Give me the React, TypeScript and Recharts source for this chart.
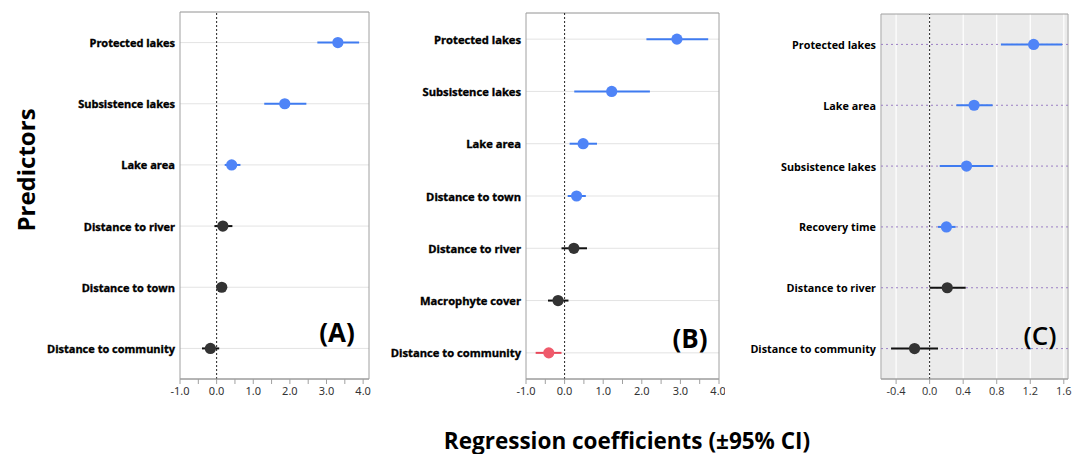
import { ScatterChart, Scatter, XAxis, YAxis, CartesianGrid, ErrorBar, ReferenceLine, ReferenceArea } from "recharts"

// panel A
const predictorsA = ["Protected lakes", "Subsistence lakes", "Lake area", "Distance to river", "Distance to town", "Distance to community"]
const estA = [3.31, 1.86, 0.41, 0.17, 0.14, -0.17]
const lowA = [2.75, 1.3, 0.22, -0.06, 0.03, -0.4]
const highA = [3.89, 2.45, 0.65, 0.43, 0.25, 0.07]
const groupA = ["pos", "pos", "pos", "ns", "ns", "ns"]
const ticksA = [-1, -0.5, 0, 0.5, 1, 1.5, 2, 2.5, 3, 3.5, 4]

// panel B
const predictorsB = ["Protected lakes", "Subsistence lakes", "Lake area", "Distance to town", "Distance to river", "Macrophyte cover", "Distance to community"]
const estB = [2.91, 1.22, 0.48, 0.31, 0.24, -0.17, -0.41]
const lowB = [2.12, 0.25, 0.13, 0.08, -0.08, -0.43, -0.75]
const highB = [3.72, 2.21, 0.84, 0.55, 0.58, 0.1, -0.08]
const groupB = ["pos", "pos", "pos", "pos", "ns", "ns", "neg"]
const ticksB = [-1, -0.5, 0, 0.5, 1, 1.5, 2, 2.5, 3, 3.5, 4]

// panel C
const predictorsC = ["Protected lakes", "Lake area", "Subsistence lakes", "Recovery time", "Distance to river", "Distance to community"]
const estC = [1.24, 0.53, 0.44, 0.2, 0.21, -0.18]
const lowC = [0.85, 0.32, 0.12, 0.1, 0.0, -0.46]
const highC = [1.58, 0.75, 0.76, 0.31, 0.43, 0.1]
const groupC = ["pos", "pos", "pos", "pos", "ns", "ns"]
const ticksC = [-0.4, 0, 0.4, 0.8, 1.2, 1.6]

const colors: Record<string, string> = { pos: "#4f84f7", ns: "#333333", neg: "#ef5a6b" }
const lineColors: Record<string, string> = { pos: "#3f7bf0", ns: "#111111", neg: "#e8475a" }

function Forest(props: any) {
  const { names, est, low, high, group, left, width, height, yw, top, right, domain, ticks, fmt, shaded, labelFont } = props
  const rows = names.map((n: string, i: number) => ({
    idx: i,
    value: est[i],
    err: [est[i] - low[i], high[i] - est[i]],
    group: group[i],
  }))
  const groups = ["pos", "ns", "neg"].filter((g) => rows.some((r: any) => r.group === g))
  const n = names.length
  const NameTick = (p: any) => (
    <text
      x={p.x - 3}
      y={p.y}
      textAnchor="end"
      dominantBaseline="central"
      fontFamily="Open Sans"
      fontSize={labelFont.size}
      fontWeight={700}
      fill="#000"
      stroke={labelFont.heavy ? "#000" : "none"}
      strokeWidth={labelFont.heavy ? 0.35 : 0}
    >
      {names[p.payload.value]}
    </text>
  )
  return (
    <div style={{ position: "absolute", left, top: 0 }}>
      <ScatterChart width={width} height={height} margin={{ top, right, bottom: 0, left: 0 }}>
        {shaded ? (
          <CartesianGrid horizontal={false} fill="#ebebeb" stroke="#ffffff" strokeWidth={1.2} />
        ) : (
          <CartesianGrid vertical={false} stroke="#e3e3e3" />
        )}
        {shaded
          ? names.map((_: string, i: number) => (
              <ReferenceLine key={i} y={i} stroke="#9b7fc4" strokeDasharray="2 3" strokeWidth={1} />
            ))
          : null}
        <XAxis
          type="number"
          dataKey="value"
          domain={domain}
          ticks={ticks}
          allowDataOverflow
          tickFormatter={fmt}
          height={31}
          tickSize={5}
          tickMargin={3}
          stroke="#a0a0a0"
          tick={{ fontSize: 11, fill: "#333", fontFamily: shaded ? "Open Sans" : "Noto Sans" }}
        />
        <YAxis
          type="number"
          dataKey="idx"
          domain={[-0.5, n - 0.5]}
          ticks={names.map((_: string, i: number) => i)}
          reversed
          width={yw}
          tickLine={false}
          tickSize={0}
          axisLine={false}
          interval={0}
          tick={NameTick}
        />
        <ReferenceArea
          x1={domain[0]} x2={domain[1]} y1={-0.5} y2={n - 0.5}
          fill="none" stroke="#a0a0a0" strokeWidth={1} ifOverflow="visible"
        />
        <ReferenceLine x={0} stroke="#222" strokeDasharray="2 2" strokeWidth={1} />
        {groups.map((g) => (
          <Scatter
            key={g}
            data={rows.filter((r: any) => r.group === g)}
            isAnimationActive={false}
            shape={(p: any) => <circle cx={p.cx} cy={p.cy} r={5.6} fill={colors[g]} />}
          >
            <ErrorBar dataKey="err" direction="x" width={0} stroke={lineColors[g]} strokeWidth={2} isAnimationActive={false} />
          </Scatter>
        ))}
      </ScatterChart>
    </div>
  )
}

const fmtHalf = (v: number) => (Number.isInteger(v) ? v.toFixed(1) : "")
const fmtC = (v: number) => v.toFixed(1)

export default function App() {
  return (
    <div style={{ position: "absolute", left: 0, top: 0, width: 1078, height: 454, background: "#fff", overflow: "hidden" }}>
      <Forest
        names={predictorsA} est={estA} low={lowA} high={highA} group={groupA}
        left={0} width={380} height={410} yw={180} top={12} right={11}
        domain={[-1, 4.16]} ticks={ticksA} fmt={fmtHalf}
        labelFont={{ size: 11, heavy: true }}
      />
      <Forest
        names={predictorsB} est={estB} low={lowB} high={highB} group={groupB}
        left={380} width={345} height={410} yw={146} top={13} right={6}
        domain={[-1, 4]} ticks={ticksB} fmt={fmtHalf}
        labelFont={{ size: 11.2, heavy: true }}
      />
      <Forest
        names={predictorsC} est={estC} low={lowC} high={highC} group={groupC}
        left={725} width={353} height={410} yw={156} top={14} right={10}
        domain={[-0.58, 1.65]} ticks={ticksC} fmt={fmtC} shaded
        labelFont={{ size: 10.8, heavy: false }}
      />
      <svg width={1078} height={454} style={{ position: "absolute", left: 0, top: 0, pointerEvents: "none" }}>
        <text x={25} y={170} transform="rotate(-90 25 170)" textAnchor="middle" dominantBaseline="central"
          fontFamily="Open Sans" fontWeight={700} fontSize={24} fill="#000">Predictors</text>
        <text x={627} y={440} textAnchor="middle" dominantBaseline="central"
          fontFamily="Open Sans" fontWeight={700} fontSize={22.5} fill="#000">Regression coefficients (±95% CI)</text>
        <text x={337} y={332} textAnchor="middle" dominantBaseline="central" fontFamily="Open Sans" fontWeight={700} fontSize={26} fill="#000">(A)</text>
        <text x={690} y={338} textAnchor="middle" dominantBaseline="central" fontFamily="Open Sans" fontWeight={700} fontSize={26} fill="#000">(B)</text>
        <text x={1040} y={335} textAnchor="middle" dominantBaseline="central" fontFamily="Open Sans" fontWeight={600} fontSize={26} fill="#000">(C)</text>
      </svg>
    </div>
  )
}
